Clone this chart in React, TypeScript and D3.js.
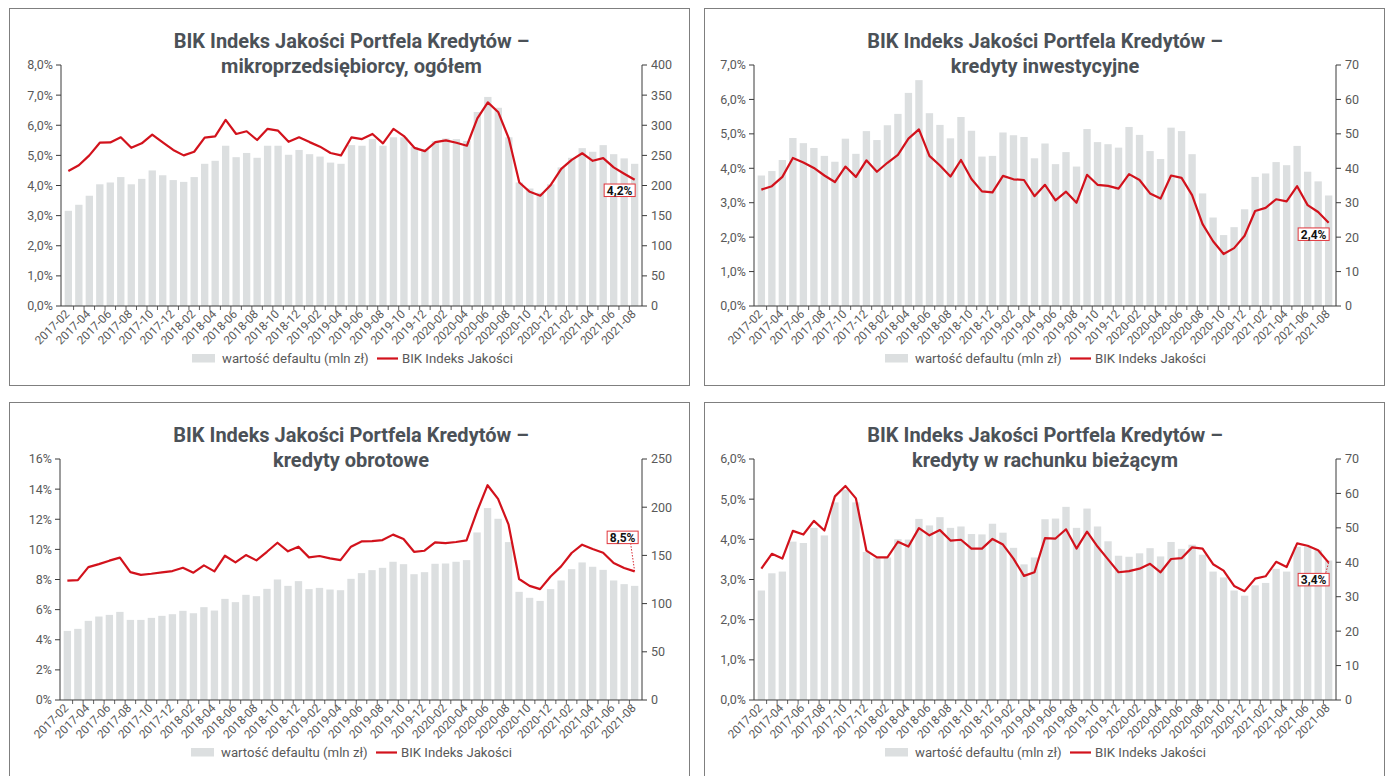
import React from 'react';
import * as d3 from 'd3';

// miesiące 2017-02 .. 2021-08
const MONTHS = [
  '2017-02', '2017-03', '2017-04', '2017-05', '2017-06', '2017-07', '2017-08', '2017-09', '2017-10', '2017-11', '2017-12',
  '2018-01', '2018-02', '2018-03', '2018-04', '2018-05', '2018-06', '2018-07', '2018-08', '2018-09', '2018-10', '2018-11', '2018-12',
  '2019-01', '2019-02', '2019-03', '2019-04', '2019-05', '2019-06', '2019-07', '2019-08', '2019-09', '2019-10', '2019-11', '2019-12',
  '2020-01', '2020-02', '2020-03', '2020-04', '2020-05', '2020-06', '2020-07', '2020-08', '2020-09', '2020-10', '2020-11', '2020-12',
  '2021-01', '2021-02', '2021-03', '2021-04', '2021-05', '2021-06', '2021-07', '2021-08'
];

// mikroprzedsiębiorcy, ogółem
const mikroDefault = [158, 168, 183, 202, 205, 214, 202, 211, 225, 217, 209, 206, 214, 236, 241, 266, 247, 254, 246, 266, 266, 251, 259, 252, 248, 238, 236, 267, 266, 277, 266, 280, 280, 264, 260, 274, 278, 277, 274, 322, 347, 329, 280, 205, 195, 188, 202, 230, 246, 262, 256, 267, 252, 245, 236];
const mikroIndex = [4.48, 4.67, 5.0, 5.42, 5.43, 5.6, 5.25, 5.4, 5.69, 5.43, 5.18, 5.0, 5.12, 5.59, 5.63, 6.18, 5.71, 5.8, 5.51, 5.88, 5.82, 5.45, 5.6, 5.44, 5.29, 5.08, 5.0, 5.6, 5.54, 5.71, 5.4, 5.88, 5.64, 5.25, 5.14, 5.44, 5.5, 5.42, 5.32, 6.23, 6.76, 6.43, 5.56, 4.1, 3.79, 3.66, 4.02, 4.55, 4.85, 5.07, 4.82, 4.91, 4.6, 4.39, 4.19];

// kredyty inwestycyjne
const inwestDefault = [37.9, 39.2, 42.4, 48.8, 47.3, 45.9, 43.6, 41.9, 48.6, 44.2, 50.8, 48.2, 52.5, 55.8, 61.9, 65.6, 56.0, 52.6, 48.7, 54.9, 50.9, 43.4, 43.6, 50.4, 49.6, 49.1, 42.9, 47.2, 41.2, 44.7, 40.5, 51.4, 47.6, 47.0, 46.0, 52.0, 49.7, 45.0, 42.7, 51.8, 50.8, 44.1, 32.7, 25.7, 20.6, 22.9, 28.1, 37.5, 38.5, 41.8, 40.9, 46.5, 39.0, 36.2, 32.1];
const inwestIndex = [3.38, 3.48, 3.75, 4.3, 4.17, 4.01, 3.79, 3.6, 4.05, 3.75, 4.23, 3.9, 4.16, 4.39, 4.86, 5.13, 4.36, 4.08, 3.76, 4.24, 3.69, 3.33, 3.3, 3.78, 3.68, 3.66, 3.19, 3.52, 3.07, 3.32, 3.0, 3.81, 3.52, 3.49, 3.41, 3.83, 3.66, 3.27, 3.12, 3.79, 3.72, 3.22, 2.38, 1.88, 1.51, 1.68, 2.04, 2.76, 2.85, 3.1, 3.04, 3.48, 2.93, 2.73, 2.42];

// kredyty obrotowe
const obrotDefault = [71.7, 73.8, 82.1, 86.6, 88.3, 91.4, 83.1, 83.1, 85.2, 87.3, 89.0, 92.5, 90.0, 96.3, 92.8, 104.9, 101.5, 109.1, 107.7, 115.3, 125.0, 118.4, 123.3, 115.0, 116.3, 114.6, 113.9, 125.7, 131.6, 134.7, 137.1, 143.4, 140.9, 130.5, 132.6, 141.3, 141.6, 143.4, 145.1, 173.8, 199.1, 188.0, 163.8, 112.2, 106.0, 102.8, 115.0, 124.0, 135.7, 142.7, 138.2, 135.0, 124.0, 120.2, 118.4];
const obrotIndex = [7.92, 7.96, 8.82, 9.02, 9.25, 9.45, 8.49, 8.31, 8.38, 8.47, 8.56, 8.78, 8.45, 8.94, 8.54, 9.58, 9.14, 9.62, 9.27, 9.84, 10.44, 9.87, 10.18, 9.47, 9.56, 9.4, 9.29, 10.18, 10.53, 10.55, 10.62, 10.98, 10.69, 9.84, 9.91, 10.47, 10.42, 10.49, 10.6, 12.53, 14.26, 13.35, 11.64, 8.03, 7.58, 7.36, 8.2, 8.87, 9.76, 10.31, 10.02, 9.78, 9.09, 8.76, 8.54];

// kredyty w rachunku bieżącym
const rachDefault = [31.8, 36.8, 37.3, 46.0, 45.6, 50.0, 47.8, 57.4, 61.1, 57.4, 43.0, 41.2, 41.4, 46.7, 46.6, 52.6, 50.7, 53.1, 50.0, 50.4, 48.2, 48.1, 51.2, 48.6, 44.2, 39.4, 41.4, 52.5, 52.7, 56.1, 50.0, 55.6, 50.4, 46.1, 41.9, 41.6, 42.6, 44.1, 41.7, 45.9, 43.9, 45.1, 42.2, 37.3, 35.6, 31.8, 30.3, 33.3, 34.0, 38.1, 37.3, 44.5, 44.6, 43.6, 40.5];
const rachIndex = [3.27, 3.64, 3.52, 4.21, 4.12, 4.46, 4.22, 5.07, 5.33, 5.02, 3.72, 3.55, 3.55, 3.94, 3.82, 4.28, 4.1, 4.23, 3.97, 3.99, 3.77, 3.77, 4.01, 3.87, 3.52, 3.09, 3.18, 4.03, 4.02, 4.25, 3.77, 4.19, 3.82, 3.5, 3.18, 3.21, 3.27, 3.39, 3.18, 3.51, 3.53, 3.8, 3.77, 3.38, 3.22, 2.84, 2.71, 3.02, 3.08, 3.44, 3.31, 3.9, 3.84, 3.73, 3.42];

const TITLE_1 = 'BIK Indeks Jakości Portfela Kredytów –';
const LEGEND_BAR = 'wartość defaultu (mln zł)';
const LEGEND_LINE = 'BIK Indeks Jakości';

const RED = '#d2121c';
const BAR = '#dcdfe0';
const AXIS = '#3a3a3a';
const TXT = '#595959';
const FONT = 'Roboto, "DejaVu Sans", sans-serif';

const panels = [
  {
    subtitle: 'mikroprzedsiębiorcy, ogółem',
    bars: mikroDefault, line: mikroIndex,
    box: { x: 9.5, y: 8.5 }, plot: { x0: 61, x1: 642, y0: 65, y1: 306 },
    leftMax: 8, leftStep: 1, leftFmt: (v: number) => v.toFixed(1).replace('.', ',') + '%',
    rightMax: 400, rightStep: 50,
    label: '4,2%', labelDx: -15, labelDy: 10.5, leader: false
  },
  {
    subtitle: 'kredyty inwestycyjne',
    bars: inwestDefault, line: inwestIndex,
    box: { x: 704.5, y: 8.5 }, plot: { x0: 754, x1: 1336, y0: 65, y1: 306 },
    leftMax: 7, leftStep: 1, leftFmt: (v: number) => v.toFixed(1).replace('.', ',') + '%',
    rightMax: 70, rightStep: 10,
    label: '2,4%', labelDx: -15, labelDy: 11.5, leader: false
  },
  {
    subtitle: 'kredyty obrotowe',
    bars: obrotDefault, line: obrotIndex,
    box: { x: 9.5, y: 402.5 }, plot: { x0: 60, x1: 642, y0: 459, y1: 700 },
    leftMax: 16, leftStep: 2, leftFmt: (v: number) => v + '%',
    rightMax: 250, rightStep: 50,
    label: '8,5%', labelDx: -12, labelDy: -34, leader: true
  },
  {
    subtitle: 'kredyty w rachunku bieżącym',
    bars: rachDefault, line: rachIndex,
    box: { x: 704.5, y: 402.5 }, plot: { x0: 754, x1: 1336, y0: 459, y1: 700 },
    leftMax: 6, leftStep: 1, leftFmt: (v: number) => v.toFixed(1).replace('.', ',') + '%',
    rightMax: 70, rightStep: 10,
    label: '3,4%', labelDx: -15, labelDy: 17, leader: true
  }
];

function Panel({ p }: { p: typeof panels[number] }) {
  const { x0, x1, y0, y1 } = p.plot;
  const x = d3.scaleBand<string>().domain(MONTHS).range([x0, x1]).paddingInner(0.3).paddingOuter(0.35);
  const yL = d3.scaleLinear().domain([0, p.leftMax]).range([y1, y0]);
  const yR = d3.scaleLinear().domain([0, p.rightMax]).range([y1, y0]);
  const cx = (m: string) => (x(m) ?? 0) + x.bandwidth() / 2;

  const leftTicks = d3.range(0, p.leftMax + p.leftStep / 2, p.leftStep);
  const rightTicks = d3.range(0, p.rightMax + p.rightStep / 2, p.rightStep);

  const linePath = d3.line<number>()
    .x((_, i) => cx(MONTHS[i]))
    .y(d => yL(d))(p.line) ?? '';

  const lastI = MONTHS.length - 1;
  const px = cx(MONTHS[lastI]);
  const py = yL(p.line[lastI]);
  const bw = 31, bh = 12.5;
  const bx = px + p.labelDx, by = py + p.labelDy;

  const midX = (x0 + x1) / 2;
  const legX = x0 + 131;
  const legY = y1 + 52.5;

  return (
    <g>
      <rect x={p.box.x} y={p.box.y} width={680} height={377} fill="#fff" stroke="#7f7f7f" strokeWidth={1} />
      <text x={midX} y={p.box.y + 39} textAnchor="middle" fontSize={20} fontWeight={700} fill="#4b5157" fontFamily={FONT}>{TITLE_1}</text>
      <text x={midX} y={p.box.y + 64.5} textAnchor="middle" fontSize={20} fontWeight={700} fill="#4b5157" fontFamily={FONT}>{p.subtitle}</text>

      {MONTHS.map((m, i) => (
        <rect key={m} x={x(m)} y={yR(p.bars[i])} width={x.bandwidth()} height={y1 - yR(p.bars[i])} fill={BAR} />
      ))}

      {/* osie */}
      <line x1={x0} x2={x0} y1={y0} y2={y1} stroke={AXIS} strokeWidth={1} />
      <line x1={x1} x2={x1} y1={y0} y2={y1} stroke={AXIS} strokeWidth={1} />
      <line x1={x0} x2={x1} y1={y1} y2={y1} stroke={AXIS} strokeWidth={1} />
      {leftTicks.map(t => (
        <g key={'l' + t}>
          <line x1={x0 - 5} x2={x0} y1={yL(t)} y2={yL(t)} stroke={AXIS} />
          <text x={x0 - 8} y={yL(t)} dy="0.35em" textAnchor="end" fontSize={12.5} fill={TXT} fontFamily={FONT}>{p.leftFmt(t)}</text>
        </g>
      ))}
      {rightTicks.map(t => (
        <g key={'r' + t}>
          <line x1={x1} x2={x1 + 5} y1={yR(t)} y2={yR(t)} stroke={AXIS} />
          <text x={x1 + 9} y={yR(t)} dy="0.35em" textAnchor="start" fontSize={12.5} fill={TXT} fontFamily={FONT}>{t}</text>
        </g>
      ))}
      {MONTHS.map((m, i) => (
        <line key={'t' + m} x1={(x(m) ?? 0) - x.step() * 0.15} x2={(x(m) ?? 0) - x.step() * 0.15} y1={y1} y2={y1 + 4} stroke={AXIS} strokeWidth={0.8} opacity={i === 0 ? 0 : 1} />
      ))}
      {MONTHS.filter((_, i) => i % 2 === 0).map(m => (
        <text key={'x' + m} transform={`translate(${cx(m) - 1},${y1 + 6}) rotate(-45)`} dy="0.35em" textAnchor="end" fontSize={11.8} fill={TXT} fontFamily={FONT}>{m}</text>
      ))}

      <path d={linePath} fill="none" stroke={RED} strokeWidth={2.2} strokeLinejoin="round" />

      {p.leader && (
        <line x1={px} y1={py} x2={bx + (p.labelDy < 0 ? 8 : 12)} y2={p.labelDy < 0 ? by + bh / 2 : by - bh / 2} stroke={RED} strokeWidth={0.9} strokeDasharray="1.5,1.5" />
      )}
      <rect x={bx - bw / 2} y={by - bh / 2} width={bw} height={bh} fill="#fff" stroke="#e0363c" strokeWidth={1} />
      <text x={bx} y={by} dy="0.36em" textAnchor="middle" fontSize={12} fontWeight={700} fill="#111" fontFamily={FONT}>{p.label}</text>

      {/* legenda */}
      <rect x={legX} y={legY - 4.5} width={23} height={8.5} fill={BAR} />
      <text x={legX + 30} y={legY} dy="0.35em" fontSize={13.2} fill={TXT} fontFamily={FONT}>{LEGEND_BAR}</text>
      <line x1={legX + 185} x2={legX + 206} y1={legY} y2={legY} stroke={RED} strokeWidth={2.2} />
      <text x={legX + 210} y={legY} dy="0.35em" fontSize={13.2} fill={TXT} fontFamily={FONT}>{LEGEND_LINE}</text>
    </g>
  );
}

export default function App() {
  return (
    <div style={{ position: 'absolute', left: 0, top: 0 }}>
      <svg width={1389} height={776} style={{ display: 'block', background: '#fff' }}>
        {panels.map(p => <Panel key={p.subtitle} p={p} />)}
      </svg>
    </div>
  );
}
